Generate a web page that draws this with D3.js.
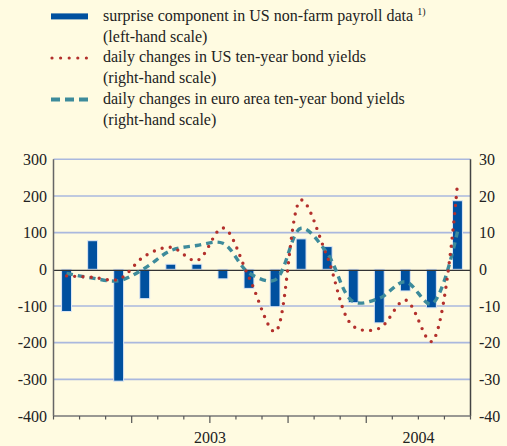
<!DOCTYPE html>
<html><head><meta charset="utf-8">
<script src="https://cdn.jsdelivr.net/npm/d3@7"></script>
<style>
body{margin:0;background:#fffbe1;}svg{display:block;}
text{font-family:"Liberation Serif","Liberation Sans",Arial,sans-serif;}
</style>
</head><body><svg id="c" width="507" height="446"></svg>
<script>
// Release months of US non-farm payroll data
const months = ["Jan 2003","Feb 2003","Mar 2003","Apr 2003","May 2003","Jun 2003","Jul 2003","Aug 2003",
  "Sep 2003","Oct 2003","Nov 2003","Dec 2003","Jan 2004","Feb 2004","Mar 2004","Apr 2004"];
// surprise component in US non-farm payroll data (thousands, left-hand scale)
const payrollSurprise = [-115, 78, -305, -80, 14, 14, -26, -52, -102, 83, 62, -91, -146, -59, -105, 187];
// daily changes in US ten-year bond yields (basis points, right-hand scale)
const usYields = [-1.8, -2.2, -2.7, 3.6, 6.0, 2.4, 11.3, -2.2, -17.0, 18.9, 3.5, -15.5, -16.1, -8.4, -19.7, 23.4];
// daily changes in euro area ten-year bond yields (basis points, right-hand scale)
const euroYields = [-1.1, -2.4, -3.1, 0.3, 5.1, 6.5, 7.1, -1.0, -2.9, 11.2, 4.4, -8.8, -7.9, -3.4, -9.5, 10.3];
const leftTicks = [-400, -300, -200, -100, 0, 100, 200, 300];
const rightTicks = [-40, -30, -20, -10, 0, 10, 20, 30];
const yearLabels = [{label: "2003", from: 0, to: 12}, {label: "2004", from: 12, to: 16}];
const quarterTicks = [3, 6, 9, 12];
const legendItems = [
  {type: "bar", lines: ["surprise component in US non-farm payroll data", "(left-hand scale)"], sup: "1)"},
  {type: "dot", lines: ["daily changes in US ten-year bond yields", "(right-hand scale)"]},
  {type: "dash", lines: ["daily changes in euro area ten-year bond yields", "(right-hand scale)"]}
];

const BAR = "#00509f", RED = "#b3302c", TEAL = "#3d8b9b", GRID = "#aab8de";
const FS = 16;

const svg = d3.select("#c");
const L = 53.5, R = 470.5, T = 159.3, B = 416;

const x = d3.scaleBand().domain(months).range([L, R]).paddingInner(0.62).paddingOuter(0.31);
const yL = d3.scaleLinear().domain([-400, 300]).range([B, T]);
const yR = d3.scaleLinear().domain([-40, 30]).range([B, T]);
const step = x.step();
const boundary = i => L + step * i;
const cx = m => x(m) + x.bandwidth() / 2;

// gridlines
svg.append("g").selectAll("line").data(leftTicks.filter(d => d !== -400 && d !== 0)).join("line")
  .attr("x1", L).attr("x2", R).attr("y1", d => yL(d)).attr("y2", d => yL(d))
  .attr("stroke", GRID).attr("stroke-width", 1.6);

// bars
svg.append("g").selectAll("rect").data(payrollSurprise).join("rect")
  .attr("x", (d, i) => x(months[i]))
  .attr("width", x.bandwidth())
  .attr("y", d => yL(Math.max(0, d)))
  .attr("height", d => Math.abs(yL(d) - yL(0)))
  .attr("fill", BAR).attr("stroke", "#dce6f4").attr("stroke-width", 1);

// zero line
svg.append("line").attr("x1", L).attr("x2", R).attr("y1", yL(0) + 1).attr("y2", yL(0) + 1)
  .attr("stroke", "#333").attr("stroke-width", 1.3);

// lines
const lineGen = arr => d3.line().x((d, i) => cx(months[i])).y(d => yR(d)).curve(d3.curveCatmullRom.alpha(0.5))(arr);
svg.append("path").attr("d", lineGen(euroYields)).attr("fill", "none")
  .attr("stroke", TEAL).attr("stroke-width", 3.4).attr("stroke-dasharray", "6.5,5");
svg.append("path").attr("d", lineGen(usYields)).attr("fill", "none")
  .attr("stroke", RED).attr("stroke-width", 3.4).attr("stroke-linecap", "round").attr("stroke-dasharray", "0,8.2");

// axes lines
svg.append("line").attr("x1", L).attr("x2", L).attr("y1", T).attr("y2", B).attr("stroke", "#666").attr("stroke-width", 1.5);
svg.append("line").attr("x1", R).attr("x2", R).attr("y1", T).attr("y2", B).attr("stroke", "#444").attr("stroke-width", 1.5);
svg.append("line").attr("x1", L).attr("x2", R).attr("y1", B).attr("y2", B).attr("stroke", "#777").attr("stroke-width", 1.5);

// x ticks
svg.append("g").selectAll("line").data(d3.range(months.length + 1)).join("line")
  .attr("x1", i => boundary(i)).attr("x2", i => boundary(i))
  .attr("y1", B).attr("y2", i => B + (quarterTicks.includes(i) ? 7 : 3.5))
  .attr("stroke", "#555").attr("stroke-width", 1.2);

// tick labels
svg.append("g").selectAll("text").data(leftTicks).join("text")
  .attr("x", 47).attr("y", d => yL(d)).attr("dy", "0.35em").attr("text-anchor", "end")
  .attr("font-size", FS).attr("fill", "#222").text(d => d);
svg.append("g").selectAll("text").data(rightTicks).join("text")
  .attr("x", 479).attr("y", d => yR(d)).attr("dy", "0.35em").attr("text-anchor", "start")
  .attr("font-size", FS).attr("fill", "#222").text(d => d);
svg.append("g").selectAll("text").data(yearLabels).join("text")
  .attr("x", d => (boundary(d.from) + boundary(d.to)) / 2).attr("y", 443).attr("text-anchor", "middle")
  .attr("font-size", FS).attr("fill", "#222").text(d => d.label);

// legend
const lg = svg.append("g");
const lineH = 20.8, base0 = 20.7;
legendItems.forEach((it, k) => {
  const yb = base0 + k * 2 * lineH;
  const ym = yb - 4.3;
  if (it.type === "bar") {
    lg.append("rect").attr("x", 51).attr("y", ym - 3).attr("width", 37).attr("height", 6).attr("fill", BAR);
  } else if (it.type === "dot") {
    lg.append("line").attr("x1", 52).attr("x2", 88).attr("y1", ym).attr("y2", ym)
      .attr("stroke", RED).attr("stroke-width", 3.2).attr("stroke-linecap", "round").attr("stroke-dasharray", "0,8.6");
  } else {
    lg.append("line").attr("x1", 51).attr("x2", 88).attr("y1", ym).attr("y2", ym)
      .attr("stroke", TEAL).attr("stroke-width", 4).attr("stroke-dasharray", "9,5");
  }
  it.lines.forEach((t, j) => {
    const tx = lg.append("text").attr("x", 103).attr("y", yb + j * lineH)
      .attr("font-size", FS).attr("fill", "#222").text(t);
    if (j === 0 && it.sup) {
      tx.append("tspan").attr("dx", 4).attr("dy", -6).attr("font-size", 10).text(it.sup);
    }
  });
});
</script></body></html>
